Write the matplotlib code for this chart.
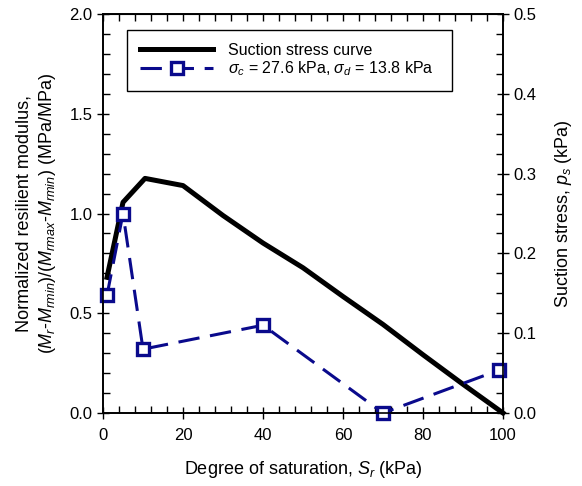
import numpy as np
import matplotlib
matplotlib.use('Agg')
import matplotlib.pyplot as plt
from matplotlib.ticker import MultipleLocator

plt.rcParams['font.family'] = ['Liberation Sans', 'DejaVu Sans']
plt.rcParams['mathtext.fontset'] = 'custom'
plt.rcParams['mathtext.rm'] = 'Liberation Sans'
plt.rcParams['mathtext.it'] = 'Liberation Sans:italic'
plt.rcParams['mathtext.bf'] = 'Liberation Sans:bold'

# Suction stress curve (kPa) vs degree of saturation
sr_curve = [1, 5, 10.5, 20, 30, 40, 50, 60, 70, 80, 90, 100]
ps_curve = [0.170, 0.264, 0.294, 0.285, 0.2475, 0.213, 0.182, 0.146, 0.111, 0.073, 0.036, 0.0]

# Normalized resilient modulus, sigma_c = 27.6 kPa, sigma_d = 13.8 kPa
sr_test = [1, 5, 10, 40, 70, 99]
mr_norm = [0.59, 1.00, 0.32, 0.44, 0.0, 0.215]

fig = plt.figure(figsize=(5.82, 4.86), dpi=100)
ax = fig.add_axes([103/582, 1 - 413/486, 400/582, 399/486])
ax2 = ax.twinx()

ln_mr, = ax.plot(sr_test, mr_norm, color='#0a0a8c', lw=2.2, dashes=(7, 3.5),
                 marker='s', ms=8.5, mfc='white', mec='#0a0a8c', mew=2.4, clip_on=False)
ln_ps, = ax2.plot(sr_curve, ps_curve, color='black', lw=3.6, clip_on=False)

ax.set_xlim(0, 100)
ax.set_ylim(0, 2.0)
ax2.set_ylim(0, 0.5)

ax.xaxis.set_major_locator(MultipleLocator(20))
ax.xaxis.set_minor_locator(MultipleLocator(4))
ax.yaxis.set_major_locator(MultipleLocator(0.5))
ax.yaxis.set_minor_locator(MultipleLocator(0.1))
ax2.yaxis.set_major_locator(MultipleLocator(0.1))
ax2.yaxis.set_minor_locator(MultipleLocator(0.025))
ax.xaxis.set_major_formatter(plt.FuncFormatter(lambda v, p: f'{v:.0f}'))
ax.yaxis.set_major_formatter(plt.FuncFormatter(lambda v, p: f'{v:.1f}'))
ax2.yaxis.set_major_formatter(plt.FuncFormatter(lambda v, p: f'{v:.1f}'))

ax.tick_params(axis='both', which='major', direction='inout', length=9, width=1,
               labelsize=12, top=False, right=False, pad=3)
ax.tick_params(axis='both', which='minor', direction='in', length=5, width=1,
               top=False, right=False)
ax.tick_params(axis='x', which='major', pad=6)
ax2.tick_params(axis='y', which='major', direction='inout', length=9, width=1,
                labelsize=12, pad=3)
ax2.tick_params(axis='y', which='minor', direction='in', length=5, width=1)

# inward ticks along the top edge
top = ax.secondary_xaxis('top')
top.xaxis.set_major_locator(MultipleLocator(20))
top.xaxis.set_minor_locator(MultipleLocator(4))
top.tick_params(which='both', direction='in', length=5, width=1, labeltop=False)

for a in (ax, ax2):
    for s in a.spines.values():
        s.set_linewidth(1.2)

ax.set_xlabel('Degree of saturation, $S_r$ (kPa)', fontsize=13, labelpad=12)
ax.set_ylabel('Normalized resilient modulus,\n'
              '$(M_r$-$M_{rmin})/(M_{rmax}$-$M_{rmin})$ (MPa/MPa)',
              fontsize=13, labelpad=8, linespacing=1.35)
ax2.set_ylabel('Suction stress, $p_s$ (kPa)', fontsize=13, labelpad=12)

leg = ax.legend([ln_ps, ln_mr],
                ['Suction stress curve',
                 r'$\sigma_c$ = 27.6 kPa, $\sigma_d$ = 13.8 kPa'],
                loc='upper left', bbox_to_anchor=(0.06, 0.96, 0.813, 0.0),
                mode='expand', fontsize=11.5, handlelength=4.6, handletextpad=0.9,
                frameon=True, fancybox=False, edgecolor='black', framealpha=1,
                borderpad=0.8, labelspacing=0.1, borderaxespad=0)
leg.get_frame().set_linewidth(1.0)
leg.set_zorder(5)
ax.set_zorder(ax2.get_zorder() + 1)
ax.patch.set_visible(False)

fig.savefig('out.png', dpi=100)
